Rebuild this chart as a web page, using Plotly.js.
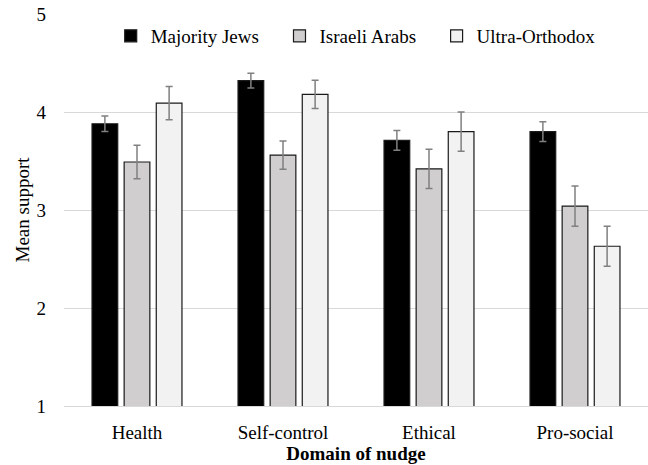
<!DOCTYPE html>
<html>
<head>
<meta charset="utf-8">
<script src="https://cdn.plot.ly/plotly-3.0.1.min.js"></script>
<style>html,body{margin:0;padding:0;background:#fff;}#chart{width:648px;height:465px;}</style>
</head>
<body>
<div id="chart"></div>
<script>
const categories = ["Health", "Self-control", "Ethical", "Pro-social"];
const seriesNames = ["Majority Jews", "Israeli Arabs", "Ultra-Orthodox"];
const majorityJews = [3.88, 4.32, 3.71, 3.80];
const majorityJewsErr = [0.08, 0.075, 0.10, 0.10];
const israeliArabs = [3.49, 3.56, 3.42, 3.04];
const israeliArabsErr = [0.17, 0.145, 0.20, 0.205];
const ultraOrthodox = [4.09, 4.18, 3.80, 2.63];
const ultraOrthodoxErr = [0.17, 0.145, 0.20, 0.205];
const yTicks = [1, 2, 3, 4, 5];

const fills = ["#000000", "#d0cece", "#f2f2f2"];
const values = [majorityJews, israeliArabs, ultraOrthodox];
const errs = [majorityJewsErr, israeliArabsErr, ultraOrthodoxErr];
const legendIds = ["legend", "legend2", "legend3"];

const FONT = "Liberation Serif";

const traces = values.map((v, i) => ({
  type: "bar",
  name: seriesNames[i],
  x: categories,
  y: v,
  base: 0,
  legend: legendIds[i],
  marker: { color: fills[i], line: { color: "#1a1a1a", width: 1.2 } },
  error_y: { type: "data", array: errs[i], visible: true, color: "#808080", thickness: 1.5, width: 3.5 },
  hoverinfo: "skip"
}));

function legendAt(x) {
  return {
    orientation: "h",
    x: x, xanchor: "left",
    yref: "paper", y: 0.944, yanchor: "middle",
    bgcolor: "rgba(0,0,0,0)",
    borderwidth: 0,
    font: { family: FONT, size: 19, color: "#000" },
    itemwidth: 30
  };
}

const layout = {
  width: 648, height: 465,
  margin: { l: 64, r: 0, t: 14, b: 59 },
  paper_bgcolor: "#fff", plot_bgcolor: "#fff",
  font: { family: FONT, size: 19, color: "#000" },
  barmode: "group",
  bargap: 0.34,
  bargroupgap: 0.2,
  showlegend: true,
  legend: legendAt(0.080),
  legend2: legendAt(0.369),
  legend3: legendAt(0.638),
  xaxis: {
    type: "category",
    showgrid: false,
    showline: true, linecolor: "#d9d9d9", linewidth: 1,
    ticks: "", ticklabelstandoff: 9,
    tickfont: { family: FONT, size: 19, color: "#000" },
    title: { text: "<b>Domain of nudge</b>", font: { family: FONT, size: 19, color: "#000" }, standoff: 1 },
    fixedrange: true
  },
  yaxis: {
    range: [1, 5],
    tickvals: yTicks,
    ticktext: yTicks.map(String),
    showgrid: true, gridcolor: "#d9d9d9", gridwidth: 1,
    zeroline: false, showline: false,
    ticks: "", ticklabelstandoff: 17,
    tickfont: { family: FONT, size: 19, color: "#000" },
    title: { text: "Mean support", font: { family: FONT, size: 19, color: "#000" }, standoff: 1 },
    fixedrange: true
  }
};

Plotly.newPlot("chart", traces, layout, { staticPlot: true, displayModeBar: false });
</script>
</body>
</html>
